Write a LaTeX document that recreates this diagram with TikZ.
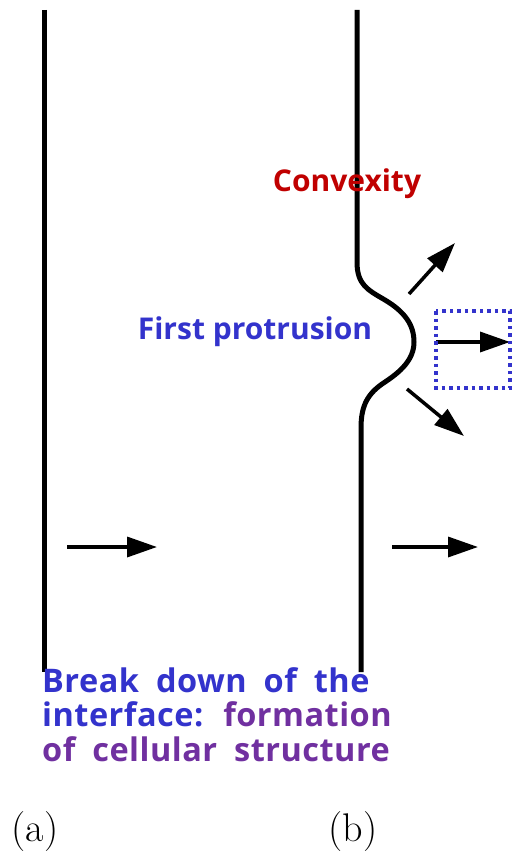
\documentclass[tikz,border=0pt]{standalone}
\usepackage{fontspec}
\newfontfamily\lblfont{Open Sans}
\newfontfamily\lblwide{Open Sans}[LetterSpace=1.5,WordSpace=1.9]
\usetikzlibrary{arrows.meta}
\definecolor{cred}{RGB}{192,0,0}
\definecolor{cblue}{RGB}{51,51,204}
\definecolor{cpurple}{RGB}{112,48,160}
\begin{document}
\begin{tikzpicture}[x=1pt,y=-1pt,
  wall/.style={line width=5pt},
  flow/.style={line width=3.5pt,-{Triangle[length=30pt,width=20pt]}},
  lbl/.style={font=\lblfont\bfseries\fontsize{30}{34.5}\selectfont,inner sep=0pt},
  lblb/.style={font=\lblwide\bfseries\fontsize{32.5}{34.5}\selectfont,inner sep=0pt},
  captext/.style={font=\fontsize{40}{40}\selectfont,inner sep=0pt}]
\useasboundingbox (0,0) rectangle (513,859);
% walls
\draw[wall] (44,10) -- (44,672);
\draw[wall] (357,10) -- (357,262) .. controls (357,285) and (368,290) .. (385,300)
  .. controls (405,312) and (414,325) .. (414,342)
  .. controls (414,360) and (400,372) .. (385,382)
  .. controls (368,393) and (361,405) .. (361,428) -- (361,672);
% arrows
\coordinate (a1s) at (67,547); \coordinate (a1e) at (157,547);
\coordinate (a2s) at (392,547); \coordinate (a2e) at (478,547);
\coordinate (u1) at (409,294); \coordinate (u2) at (455,243);
\coordinate (m1) at (436,342); \coordinate (m2) at (510,342);
\coordinate (d1) at (407,389); \coordinate (d2) at (464,436);
\draw[flow] (a1s) -- (a1e);
\draw[flow] (a2s) -- (a2e);
\draw[flow] (u1) -- (u2);
\draw[flow] (m1) -- (m2);
\draw[flow] (d1) -- (d2);
% dotted box
\draw[cblue,line width=3.5pt,dash pattern=on 3.5pt off 4pt] (436,311) rectangle (510,388);
% labels
\node[lbl,text=cred] (conv) at (347,184) {Convexity};
\node[lbl,text=cblue] (prot) at (255,332) {First protrusion};
\node[lblb,anchor=north west,align=left] (brk) at (42,667) {\textcolor{cblue}{Break down of the}\\\textcolor{cblue}{interface:} \textcolor{cpurple}{formation}\\\textcolor{cpurple}{of cellular structure}};
\node[captext] (capa) at (35,832) {(a)};
\node[captext] (capb) at (353,832) {(b)};
\end{tikzpicture}
\end{document}
